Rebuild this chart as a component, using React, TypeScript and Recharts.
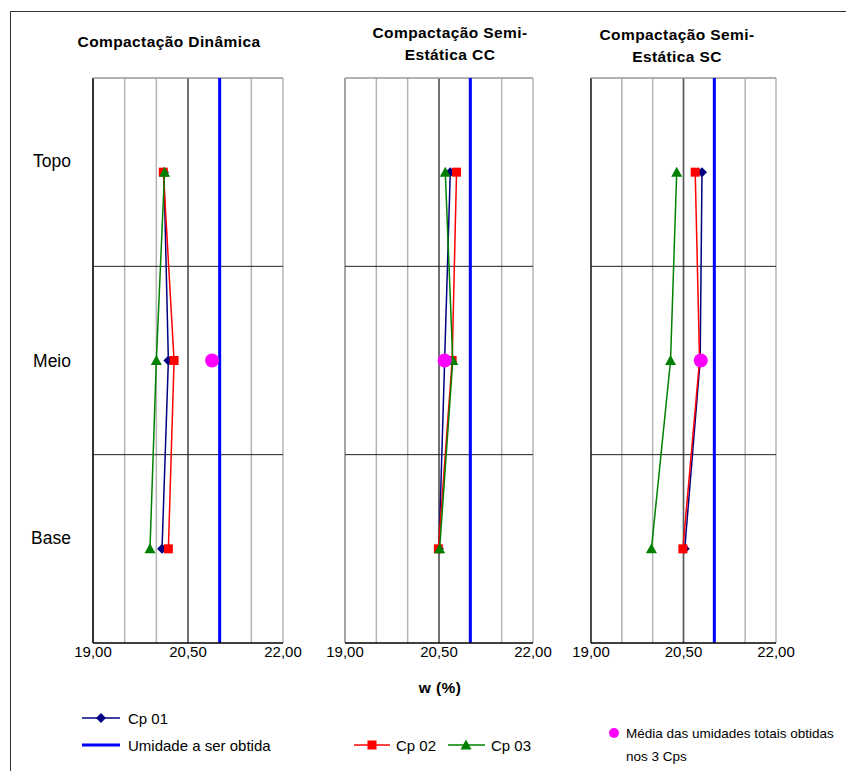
import React from 'react';
import {
  ScatterChart,
  Scatter,
  XAxis,
  YAxis,
  CartesianGrid,
  ReferenceLine,
} from 'recharts';

// Moisture content w (%) per layer: Topo, Meio, Base
const levelValues = [2.5, 1.5, 0.5];
const levelNames = ['Topo', 'Meio', 'Base'];
const levelTicks = [2.56, 1.5, 0.56];

const dinCp01 = [20.12, 20.19, 20.09];
const dinCp02 = [20.11, 20.28, 20.19];
const dinCp03 = [20.13, 20.0, 19.9];
const dinMedia = [20.88];

const ccCp01 = [20.68, 20.59, 20.5];
const ccCp02 = [20.78, 20.71, 20.49];
const ccCp03 = [20.6, 20.72, 20.51];
const ccMedia = [20.59];

const scCp01 = [20.8, 20.77, 20.52];
const scCp02 = [20.69, 20.76, 20.49];
const scCp03 = [20.39, 20.29, 19.98];
const scMedia = [20.78];

const targetMoisture = 21.0;
const xTicks = [19, 19.5, 20, 20.5, 21, 21.5, 22];
const xLabelTicks = [19, 20.5, 22];

const FONT = '"Liberation Sans", Arial, sans-serif';
const NAVY = '#000080';
const RED = '#FF0000';
const GREEN = '#008000';
const MAGENTA = '#FF00FF';
const BLUE = '#0000FF';

const toPoints = (vals: number[]) => vals.map((w, i) => ({ w, y: levelValues[i] }));
const mediaPoint = (vals: number[]) => vals.map((w) => ({ w, y: 1.5 }));

const Diamond = ({ cx, cy }: any) => (
  <path d={`M${cx - 5},${cy} L${cx},${cy - 5} L${cx + 5},${cy} L${cx},${cy + 5} Z`} fill={NAVY} />
);
const Square = ({ cx, cy }: any) => <rect x={cx - 4.5} y={cy - 4.5} width={9} height={9} fill={RED} />;
const Triangle = ({ cx, cy }: any) => (
  <path d={`M${cx},${cy - 5.5} L${cx + 5.5},${cy + 4.5} L${cx - 5.5},${cy + 4.5} Z`} fill={GREEN} />
);
const Dot = ({ cx, cy }: any) => <circle cx={cx} cy={cy} r={7} fill={MAGENTA} />;

const fmt = (v: number) => (xLabelTicks.includes(v) ? v.toFixed(2).replace('.', ',') : '');

type PanelProps = {
  left: number;
  width: number;
  margin: { top: number; right: number; bottom: number; left: number };
  showLevels?: boolean;
  cp01: number[];
  cp02: number[];
  cp03: number[];
  media: number[];
  leftEdge: string;
};

const Panel: React.FC<PanelProps> = ({ left, width, margin, showLevels, cp01, cp02, cp03, media, leftEdge }) => (
  <div style={{ position: 'absolute', left, top: 0 }}>
    <ScatterChart width={width} height={680} margin={margin}>
      <CartesianGrid horizontal={false} stroke="#b4b4b4" strokeWidth={1.5} />
      <XAxis
        type="number"
        dataKey="w"
        domain={[19, 22]}
        ticks={xTicks}
        interval={0}
        tickFormatter={fmt}
        axisLine={{ stroke: '#000', strokeWidth: 1.5 }}
        tickLine={false}
        tickSize={0}
        tickMargin={3}
        height={30}
        tick={{ fill: '#000', fontSize: 15, fontFamily: FONT }}
      />
      <YAxis
        type="number"
        dataKey="y"
        domain={[0, 3]}
        ticks={levelTicks}
        hide={!showLevels}
        width={showLevels ? 93 : 0}
        axisLine={false}
        tickLine={false}
        tickSize={0}
        tickMargin={22}
        tickFormatter={(v: number) => levelNames[levelTicks.indexOf(v)]}
        tick={{ fill: '#000', fontSize: 17.5, fontFamily: FONT }}
      />
      <ReferenceLine x={19} stroke={leftEdge} strokeWidth={1.5} />
      <ReferenceLine x={20.5} stroke="#555" strokeWidth={1.5} />
      <ReferenceLine y={3} stroke="#999" strokeWidth={1.5} />
      <ReferenceLine y={2} stroke="#222" strokeWidth={1} />
      <ReferenceLine y={1} stroke="#222" strokeWidth={1} />
      <ReferenceLine x={targetMoisture} stroke={BLUE} strokeWidth={3} />
      <Scatter data={toPoints(cp01)} fill={NAVY} line={{ stroke: NAVY, strokeWidth: 1.5 }} shape={Diamond} isAnimationActive={false} />
      <Scatter data={toPoints(cp02)} fill={RED} line={{ stroke: RED, strokeWidth: 1.5 }} shape={Square} isAnimationActive={false} />
      <Scatter data={toPoints(cp03)} fill={GREEN} line={{ stroke: GREEN, strokeWidth: 1.5 }} shape={Triangle} isAnimationActive={false} />
      <Scatter data={mediaPoint(media)} fill={MAGENTA} shape={Dot} isAnimationActive={false} />
    </ScatterChart>
  </div>
);

const titleStyle: React.CSSProperties = {
  position: 'absolute',
  fontFamily: FONT,
  fontWeight: 'bold',
  fontSize: 15.5,
  letterSpacing: 0.4,
  textAlign: 'center',
  lineHeight: '22px',
  color: '#000',
  whiteSpace: 'nowrap',
};

const legendText: React.CSSProperties = {
  position: 'absolute',
  fontFamily: FONT,
  fontSize: 15,
  color: '#000',
  lineHeight: '25px',
  whiteSpace: 'nowrap',
};

export default function App() {
  return (
    <div
      style={{
        position: 'absolute',
        left: 0,
        top: 0,
        width: 846,
        height: 771,
        overflow: 'hidden',
        background: '#fff',
      }}
    >
      <div
        style={{
          position: 'absolute',
          left: 10,
          top: 11,
          width: 845,
          height: 770,
          border: '1.5px solid #333',
        }}
      />
      <Panel
        left={0}
        width={320}
        margin={{ top: 78, right: 37, bottom: 7, left: 0 }}
        showLevels
        cp01={dinCp01}
        cp02={dinCp02}
        cp03={dinCp03}
        media={dinMedia}
        leftEdge="#000"
      />
      <Panel
        left={300}
        width={270}
        margin={{ top: 78, right: 37, bottom: 7, left: 45 }}
        cp01={ccCp01}
        cp02={ccCp02}
        cp03={ccCp03}
        media={ccMedia}
        leftEdge="#999"
      />
      <Panel
        left={560}
        width={260}
        margin={{ top: 78, right: 44, bottom: 7, left: 31 }}
        cp01={scCp01}
        cp02={scCp02}
        cp03={scCp03}
        media={scMedia}
        leftEdge="#222"
      />

      <div style={{ ...titleStyle, left: 69, width: 200, top: 31 }}>Compactação Dinâmica</div>
      <div style={{ ...titleStyle, left: 350, width: 200, top: 22 }}>
        Compactação Semi-
        <br />
        Estática CC
      </div>
      <div style={{ ...titleStyle, left: 577, width: 200, top: 24 }}>
        Compactação Semi-
        <br />
        Estática SC
      </div>

      <div style={{ ...titleStyle, left: 390, width: 100, top: 677 }}>w (%)</div>

      <svg style={{ position: 'absolute', left: 0, top: 0 }} width={846} height={771}>
        <line x1={82} x2={120} y1={718} y2={718} stroke={NAVY} strokeWidth={1.5} />
        <Diamond cx={101} cy={718} />
        <line x1={82} x2={120} y1={745} y2={745} stroke={BLUE} strokeWidth={3} />
        <line x1={354} x2={390} y1={745} y2={745} stroke={RED} strokeWidth={1.5} />
        <Square cx={372} cy={745} />
        <line x1={448} x2={485} y1={745} y2={745} stroke={GREEN} strokeWidth={1.5} />
        <Triangle cx={466} cy={745} />
        <circle cx={614} cy={733} r={5} fill={MAGENTA} />
      </svg>
      <div style={{ ...legendText, left: 128, top: 706 }}>Cp 01</div>
      <div style={{ ...legendText, left: 128, top: 733 }}>Umidade a ser obtida</div>
      <div style={{ ...legendText, left: 396, top: 733 }}>Cp 02</div>
      <div style={{ ...legendText, left: 491, top: 733 }}>Cp 03</div>
      <div style={{ ...legendText, fontSize: 13.5, lineHeight: '23px', left: 626, top: 722 }}>
        Média das umidades totais obtidas
        <br />
        nos 3 Cps
      </div>
    </div>
  );
}
